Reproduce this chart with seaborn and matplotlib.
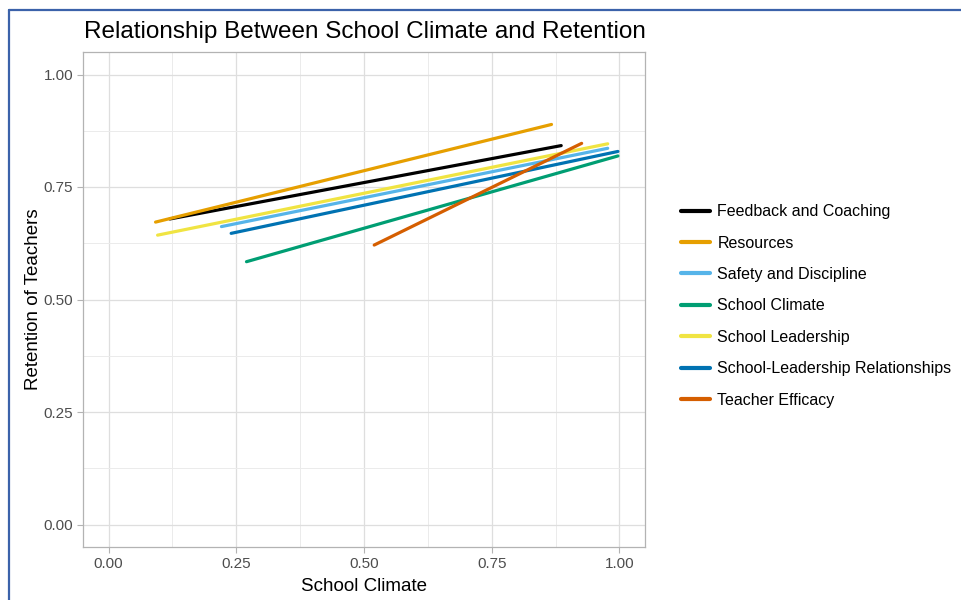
import matplotlib
matplotlib.use("Agg")
import matplotlib.pyplot as plt
import seaborn as sns
import pandas as pd
from matplotlib.lines import Line2D

categories = ["Feedback and Coaching", "Resources", "Safety and Discipline",
              "School Climate", "School Leadership",
              "School-Leadership Relationships", "Teacher Efficacy"]
x_start = [0.120, 0.092, 0.221, 0.270, 0.096, 0.240, 0.520]
x_end = [0.886, 0.867, 0.977, 0.997, 0.977, 0.997, 0.926]
y_start = [0.679, 0.672, 0.662, 0.584, 0.643, 0.647, 0.621]
y_end = [0.842, 0.889, 0.836, 0.819, 0.846, 0.829, 0.847]
colors = ["#000000", "#E69F00", "#56B4E9", "#009E73", "#F0E442", "#0072B2", "#D55E00"]
x_ticks = [0.0, 0.25, 0.5, 0.75, 1.0]
y_ticks = [0.0, 0.25, 0.5, 0.75, 1.0]

rows = []
for c, xs, xe, ys, ye in zip(categories, x_start, x_end, y_start, y_end):
    rows.append({"Category": c, "School Climate": xs, "Retention": ys})
    rows.append({"Category": c, "School Climate": xe, "Retention": ye})
df = pd.DataFrame(rows)

sns.set_theme(style="whitegrid")
plt.rcParams["font.family"] = ["Liberation Sans", "DejaVu Sans"]

fig = plt.figure(figsize=(9.61, 6.0), dpi=100)
ax = fig.add_axes([83 / 961, 1 - 547 / 600, (645 - 83) / 961, (547 - 52) / 600])
ax.set_facecolor("white")

sns.lineplot(data=df, x="School Climate", y="Retention", hue="Category",
             hue_order=categories, palette=dict(zip(categories, colors)),
             linewidth=2.3, ax=ax, legend=False, sort=False, estimator=None,
             units="Category")

ax.set_xlim(-0.05, 1.05)
ax.set_ylim(-0.05, 1.05)
ax.set_xticks(x_ticks)
ax.set_yticks(y_ticks)
ax.set_xticklabels([f"{v:.2f}" for v in x_ticks])
ax.set_yticklabels([f"{v:.2f}" for v in y_ticks])
ax.set_xticks([0.125, 0.375, 0.625, 0.875], minor=True)
ax.set_yticks([0.125, 0.375, 0.625, 0.875], minor=True)
ax.grid(True, which="major", color="#DEDEDE", linewidth=0.9)
ax.grid(True, which="minor", color="#EBEBEB", linewidth=0.7)
ax.tick_params(axis="both", which="major", length=4, width=0.8, color="#B3B3B3",
               labelsize=11, labelcolor="#4D4D4D", pad=3, bottom=True, left=True)
ax.tick_params(axis="both", which="minor", length=0)
for s in ax.spines.values():
    s.set_visible(True)
    s.set_color("#B3B3B3")
    s.set_linewidth(0.9)

ax.set_xlabel("School Climate", fontsize=13.5, color="black", labelpad=5)
ax.set_ylabel("Retention of Teachers", fontsize=13.5, color="black", labelpad=1)
fig.text(84 / 961, 1 - 32 / 600, "Relationship Between School Climate and Retention",
         fontsize=17.5, color="black", ha="left", va="center")

handles = [Line2D([0], [0], color=c, linewidth=3) for c in colors]
fig.legend(handles, categories, loc="center left", bbox_to_anchor=(667 / 961, 1 - 306 / 600),
           frameon=False, fontsize=11.5, handlelength=1.8, handletextpad=0.45,
           labelspacing=1.03, labelcolor="black")

# screenshot frame
fig.add_artist(Line2D([9 / 961, 9 / 961], [0, 1 - 10 / 600], transform=fig.transFigure,
                      color="#3B62AA", linewidth=1.6))
fig.add_artist(Line2D([9 / 961, 1], [1 - 10 / 600, 1 - 10 / 600], transform=fig.transFigure,
                      color="#3B62AA", linewidth=1.6))

fig.savefig("out.png", dpi=100, facecolor="white")
